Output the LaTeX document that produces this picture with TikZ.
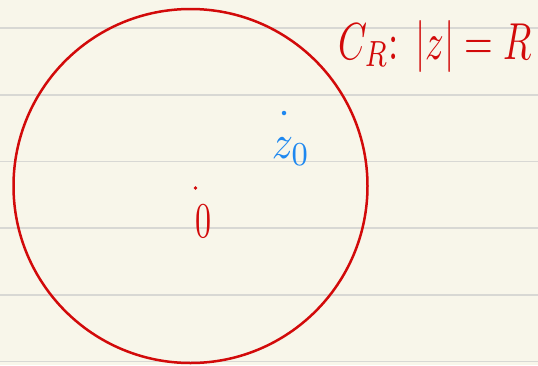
\documentclass[tikz,border=0pt]{standalone}
\usepackage{graphicx}
\definecolor{paper}{HTML}{F8F6EA}
\definecolor{rule}{HTML}{D8D8D4}
\definecolor{inkred}{HTML}{D20A0A}
\definecolor{inkblue}{HTML}{1E88F0}
\begin{document}
\begin{tikzpicture}[x=1pt,y=-1pt,
  ruleline/.style={rule,line width=1.3pt},
  dotmark/.style={circle,fill=#1,inner sep=0pt,minimum size=4.5pt},
  hand/.style={inner sep=0pt,text=#1}]
\fill[paper] (0,0) rectangle (538,365);
\useasboundingbox (0,0) rectangle (538,365);
\foreach \y in {28,95,161.5,228,295,361.5} \draw[ruleline] (0,\y) -- (538,\y);
\node[draw=inkred,line width=2.5pt,circle,minimum size=354pt,inner sep=0pt] (cr) at (190.5,186) {};
\node[dotmark=inkblue] (z0dot) at (284,113) {};
\node[hand=inkblue] (z0) at (291,152) {\scalebox{4.2}[4.8]{$z_0$}};
\node[dotmark=inkred,minimum size=3.6pt] (odot) at (195.5,188) {};
\node[hand=inkred] (o) at (203,221) {\scalebox{3.2}[5]{$0$}};
\node[hand=inkred,anchor=west] (lbl) at (338,46) {\resizebox*{194pt}{52pt}{$C_R\colon\;|z|=R$}};
\end{tikzpicture}
\end{document}
